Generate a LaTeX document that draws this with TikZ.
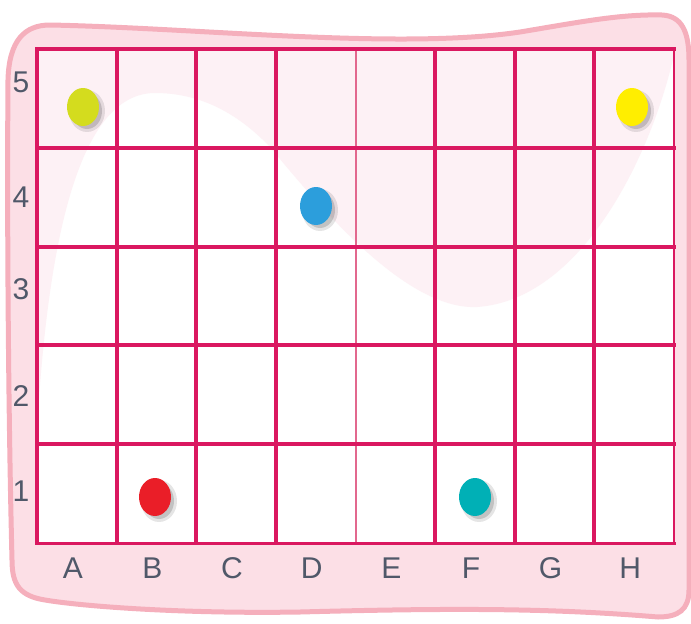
\documentclass[tikz,border=0pt]{standalone}
\usepackage{fontspec}
\setmainfont{Liberation Sans}
\definecolor{GridPink}{RGB}{218, 24, 96}
\definecolor{ThinPink}{RGB}{226, 104, 142}
\definecolor{FramePink}{RGB}{252, 223, 230}
\definecolor{FrameEdge}{RGB}{245, 175, 188}
\definecolor{PalePink}{RGB}{253, 241, 245}
\definecolor{LabelGray}{RGB}{80, 88, 105}
\definecolor{DotLime}{RGB}{212, 220, 30}
\definecolor{DotYellow}{RGB}{255, 238, 0}
\definecolor{DotBlue}{RGB}{44, 158, 220}
\definecolor{DotRed}{RGB}{234, 30, 40}
\definecolor{DotTeal}{RGB}{0, 176, 182}

\begin{document}
\begin{tikzpicture}[x=1pt, y=-1pt,
    gridline/.style={GridPink, line width=4pt},
    axislabel/.style={LabelGray, inner sep=0pt, font=\fontsize{30}{30}\selectfont}]
    \useasboundingbox (0,0) rectangle (691,624);
    \def\cw{79.625}
    \def\rh{98.8}

    % Pink frame
    \filldraw[fill=FramePink, draw=FrameEdge, line width=5pt]
      (8,80) .. controls (9,40) and (25,25) .. (50,25)
      .. controls (200,28) and (400,50) .. (520,32)
      .. controls (580,22) and (620,14) .. (662,15)
      .. controls (682,16) and (689,32) .. (689,60)
      -- (689,590)
      .. controls (689,610) and (678,617) .. (658,617)
      .. controls (550,608) and (450,608) .. (300,612)
      .. controls (180,614) and (80,606) .. (45,600)
      .. controls (20,596) and (12,585) .. (12,560)
      .. controls (8,400) and (7,200) .. (8,80) -- cycle;

    % Board background with pale wave
    \fill[white] (37,49) rectangle (674,543);
    \begin{scope}
      \clip (37,49) rectangle (674,543);
      \fill[PalePink] (37,49) -- (674,49) -- (674,55)
        .. controls (650,160) and (580,300) .. (477,307)
        .. controls (410,310) and (330,220) .. (270,147)
        .. controls (230,105) and (190,93) .. (155,93)
        .. controls (90,93) and (50,200) .. (37,430) -- cycle;
    \end{scope}

    % Grid lines
    \draw[ThinPink, line width=2pt] (37+4*\cw,49) -- (37+4*\cw,543);
    \foreach \i in {0,...,4}
      \draw[gridline] (35,49+\i*\rh) -- (676,49+\i*\rh);
    \draw[GridPink, line width=3pt] (35,543) -- (676,543);
    \foreach \i in {0,1,2,3,5,6,7}
      \draw[gridline] (37+\i*\cw,49) -- (37+\i*\cw,543);
    \draw[GridPink, line width=2.5pt] (674,49) -- (674,543);

    % Counters
    \foreach \x/\y/\c in {83/107/DotLime, 632/107/DotYellow, 316/206/DotBlue,
                          155/497/DotRed, 475/497/DotTeal} {
      \fill[black, opacity=0.10] (\x+4,\y+4) ellipse (18pt and 21pt);
      \fill[black, opacity=0.15] (\x+4,\y+4) ellipse (15pt and 18pt);
      \fill[\c] (\x,\y) ellipse (16pt and 19pt);
    }

    % Axis labels
    \foreach \n [count=\k] in {A,B,C,D,E,F,G,H}
      \node[axislabel] (col-\n) at (33+\k*\cw-\cw/2,568) {\n};
    \foreach \n/\y in {5/82, 4/197, 3/289, 2/396, 1/491}
      \node[axislabel] (row-\n) at (21,\y) {\n};
\end{tikzpicture}
\end{document}
